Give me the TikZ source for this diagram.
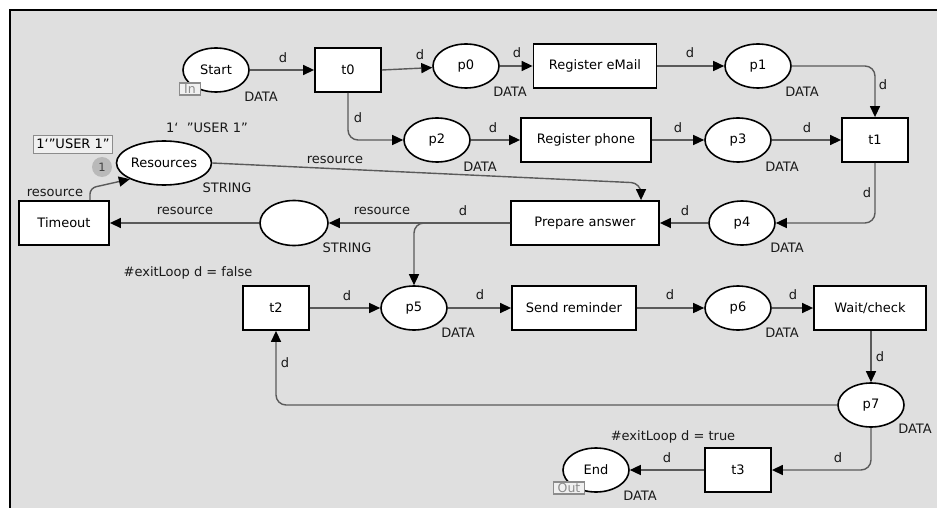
\documentclass[tikz,border=0pt]{standalone}
\usepackage{fontspec}
\setmainfont{DejaVu Sans}
\usetikzlibrary{arrows.meta,shapes.geometric}

\definecolor{netbg}{RGB}{223,223,223}
\definecolor{arcgray}{RGB}{90,90,90}
\definecolor{taggray}{RGB}{140,140,140}
\definecolor{tokengray}{RGB}{185,185,185}
\definecolor{markfill}{RGB}{240,240,240}
\newcommand{\bq}{\symbol{96}}
\newcommand{\dq}{\symbol{34}}

\begin{document}
\begin{tikzpicture}[x=1pt,y=-1pt,
  font=\fontsize{13}{15}\selectfont,
  place/.style={ellipse, draw=black, line width=1.6pt, fill=white,
    minimum width=66pt, minimum height=44pt, inner sep=0pt},
  trans/.style={rectangle, draw=black, line width=1.8pt, fill=white,
    minimum width=66pt, minimum height=44pt, inner sep=0pt},
  arc/.style={draw=arcgray, line width=1.4pt, rounded corners=10pt,
    -{Triangle[length=11pt,width=10pt,color=black]}},
  lbl/.style={inner sep=0pt, text=black!90},
  tag/.style={draw=taggray, line width=1.2pt, text=taggray, inner sep=0pt,
    minimum height=12pt, font=\fontsize{12.5}{13}\selectfont, fill=markfill}
]
% canvas
\useasboundingbox (0,0) rectangle (937,508);
\fill[white] (0,0) rectangle (937,508);
\fill[netbg] (10,10) rectangle (937,508);
\draw[line width=2.5pt, line join=miter] (10,508) -- (10,10) -- (937,10);

% places
\node[place] (Start) at (216,70) {Start};
\node[place] (p0) at (466,66) {p0};
\node[place] (p1) at (758,66) {p1};
\node[place] (p2) at (437,140) {p2};
\node[place] (p3) at (738,140) {p3};
\node[place, minimum width=95pt] (Res) at (164,163) {Resources};
\node[place, minimum width=68pt, minimum height=45pt] (Pool) at (294,223) {};
\node[place] (p4) at (742,223) {p4};
\node[place] (p5) at (414,308) {p5};
\node[place] (p6) at (738,308) {p6};
\node[place] (p7) at (871,405) {p7};
\node[place] (End) at (596,470) {End};

% transitions
\node[trans] (t0) at (348,70) {t0};
\node[trans, minimum width=123pt] (RegMail) at (595,66) {Register eMail};
\node[trans, minimum width=130pt] (RegPhone) at (586,140) {Register phone};
\node[trans] (t1) at (875,140) {t1};
\node[trans, minimum width=90pt] (Timeout) at (64,223) {Timeout};
\node[trans, minimum width=148pt] (Prep) at (585,223) {Prepare answer};
\node[trans] (t2) at (276,308) {t2};
\node[trans, minimum width=124pt] (Send) at (574,308) {Send reminder};
\node[trans, minimum width=112pt] (Wait) at (870,308) {Wait/check};
\node[trans] (t3) at (738,470) {t3};

% port tags, marking and token count
\node[tag, minimum width=21pt] (inTag) at (190,89) {In};
\node[tag, minimum width=31pt] (outTag) at (569,488) {Out};
\node[draw=taggray, fill=markfill, line width=0.8pt, inner xsep=3pt, inner ysep=4pt] (mark) at (73,144) {1\bq\dq USER 1\dq};
\node[circle, fill=tokengray, inner sep=0pt, minimum size=20pt, text=black!75,
  font=\fontsize{11.5}{12}\selectfont] (tok) at (102,167) {1};

% arcs
\draw[arc] (Start) -- (t0);
\draw[arc] (t0.east) -- (p0);
\draw[arc] (p0) -- (RegMail);
\draw[arc] (RegMail) -- (p1);
\draw[arc] (p1.east) -| (t1.north);
\draw[arc] (t0.south) |- (p2.west);
\draw[arc] (p2) -- (RegPhone);
\draw[arc] (RegPhone) -- (p3);
\draw[arc] (p3) -- (t1);
\draw[arc] (t1.south) |- (p4.east);
\draw[arc] (p4) -- (Prep);
\draw[arc] (Prep.west) -- (Pool.east);
\draw[arc] (Pool) -- (Timeout);
\draw[arc] (Prep.west) -| (p5.north);
\draw[arc, rounded corners=6pt] ([xshift=26pt]Timeout.north) -- ++(0,-12) -- (Res.south west);
\draw[arc] (Res.east) -- ([xshift=56pt]Prep.north |- 0,183) -- ([xshift=56pt]Prep.north);
\draw[arc] (t2) -- (p5);
\draw[arc] (p5) -- (Send);
\draw[arc] (Send) -- (p6);
\draw[arc] (p6) -- (Wait);
\draw[arc] (Wait.south -| p7) -- (p7.north);
\draw[arc] (p7.west) -| (t2.south);
\draw[arc] (p7.south) |- (t3.east);
\draw[arc] (t3) -- (End);

% inscriptions
\node[lbl] (a1) at (283,58) {d};
\node[lbl] (a2) at (420,55) {d};
\node[lbl] (a3) at (517,53) {d};
\node[lbl] (a4) at (690,53) {d};
\node[lbl] (a5) at (883,85) {d};
\node[lbl] (a6) at (358,118) {d};
\node[lbl] (a7) at (493,128) {d};
\node[lbl] (a8) at (678,128) {d};
\node[lbl] (a9) at (807,128) {d};
\node[lbl] (a10) at (867,193) {d};
\node[lbl] (a11) at (685,211) {d};
\node[lbl] (a12) at (335,160) {resource};
\node[lbl] (a13) at (55,193) {resource};
\node[lbl] (a14) at (185,211) {resource};
\node[lbl] (a15) at (382,211) {resource};
\node[lbl] (a16) at (463,211) {d};
\node[lbl] (a17) at (347,296) {d};
\node[lbl] (a18) at (480,295) {d};
\node[lbl] (a19) at (670,295) {d};
\node[lbl] (a20) at (793,295) {d};
\node[lbl] (a21) at (880,357) {d};
\node[lbl] (a22) at (285,363) {d};
\node[lbl] (a23) at (838,458) {d};
\node[lbl] (a24) at (667,458) {d};

% colour sets, initial marking and guards
\node[lbl] (c1) at (261,97) {DATA};
\node[lbl] (c2) at (510,92) {DATA};
\node[lbl] (c3) at (802,92) {DATA};
\node[lbl] (c4) at (480,167) {DATA};
\node[lbl] (c5) at (782,167) {DATA};
\node[lbl] (c6) at (787,248) {DATA};
\node[lbl] (c7) at (227,188) {STRING};
\node[lbl] (c8) at (347,248) {STRING};
\node[lbl] (c9) at (458,333) {DATA};
\node[lbl] (c10) at (782,333) {DATA};
\node[lbl] (c11) at (915,429) {DATA};
\node[lbl] (c12) at (640,496) {DATA};
\node[lbl] (init) at (207,128) {1\bq\ \ \dq USER 1\dq};
\node[lbl] (g1) at (188,273) {\#exitLoop d = false};
\node[lbl] (g2) at (673,437) {\#exitLoop d = true};
\end{tikzpicture}
\end{document}
